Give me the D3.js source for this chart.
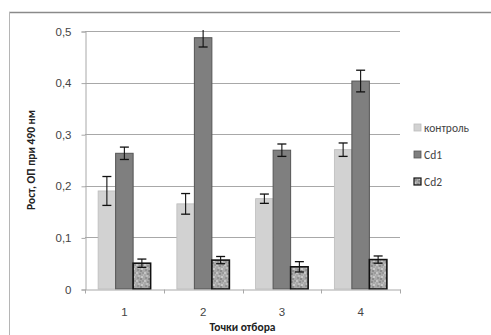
<!DOCTYPE html>
<html>
<head>
<meta charset="utf-8">
<script src="https://cdn.jsdelivr.net/npm/d3@7"></script>
<style>
  html, body { margin: 0; padding: 0; background: #fff; }
  svg { display: block; font-family: Calibri, Carlito, "Liberation Sans", Arial, sans-serif; }
</style>
</head>
<body>
<svg id="chart" width="491" height="335"></svg>
<script>
// Sampling points
const categories = ["1", "2", "3", "4"];
const seriesNames = ["контроль", "Cd1", "Cd2"];
// Optical density at 490 nm, per series, per sampling point
const control = [0.190, 0.165, 0.175, 0.270];
const cd1 = [0.263, 0.487, 0.269, 0.403];
const cd2 = [0.050, 0.056, 0.043, 0.057];
// Error bar half-widths
const controlErr = [0.028, 0.020, 0.009, 0.013];
const cd1Err = [0.012, 0.018, 0.012, 0.021];
const cd2Err = [0.008, 0.007, 0.010, 0.007];
const yTicks = [0, 0.1, 0.2, 0.3, 0.4, 0.5];
const yTitle = "Рост, ОП при 490 нм";
const xTitle = "Точки отбора";

const values = [control, cd1, cd2];
const errors = [controlErr, cd1Err, cd2Err];

const svg = d3.select("#chart");
const plot = { left: 85, right: 400, top: 31, bottom: 289 };

// Outer chart frame
svg.append("line").attr("x1", 9).attr("x2", 491).attr("y1", 12.5).attr("y2", 12.5)
  .attr("stroke", "#8a8a8a").attr("stroke-width", 1.5);
svg.append("line").attr("x1", 9.5).attr("x2", 9.5).attr("y1", 12).attr("y2", 335)
  .attr("stroke", "#b5b5b5").attr("stroke-width", 1);

const x0 = d3.scaleBand().domain(categories).range([plot.left, plot.right]).paddingInner(0).paddingOuter(0);
const bw = x0.bandwidth() / (3 + 1.5);
const x1 = d3.scaleBand().domain(seriesNames).range([0, bw * 3]);
const y = d3.scaleLinear().domain([0, 0.5]).range([plot.bottom, plot.top]);

const fmt = d => d3.format(".1f")(d).replace(".", ",").replace(/^0,0$/, "0");

// Texture for the Cd2 series
const defs = svg.append("defs");
const pat = defs.append("pattern").attr("id", "mottle").attr("patternUnits", "userSpaceOnUse")
  .attr("width", 8).attr("height", 8);
pat.append("rect").attr("width", 8).attr("height", 8).attr("fill", "#a9a9a9");
const specks = [[0,0,"#c4c4c4"],[3,1,"#8f8f8f"],[5,4,"#c8c8c8"],[1,5,"#939393"],[6,0,"#9a9a9a"],[2,3,"#bdbdbd"],[4,6,"#8c8c8c"],[7,2,"#b8b8b8"]];
specks.forEach(s => pat.append("rect").attr("x", s[0]).attr("y", s[1]).attr("width", 2).attr("height", 2).attr("fill", s[2]));

// Gridlines
svg.append("g").selectAll("line").data(yTicks.filter(t => t > 0)).join("line")
  .attr("x1", plot.left).attr("x2", plot.right)
  .attr("y1", d => Math.round(y(d)) + 0.5).attr("y2", d => Math.round(y(d)) + 0.5)
  .attr("stroke", "#a8a8a8").attr("stroke-width", 1);

// Y axis
const yAxis = svg.append("g").attr("transform", `translate(${plot.left + 0.5},0.5)`)
  .call(d3.axisLeft(y).tickValues(yTicks).tickFormat(fmt).tickSize(4).tickPadding(10));
yAxis.select(".domain").attr("stroke", "#a8a8a8");
yAxis.selectAll(".tick line").attr("stroke", "#a8a8a8");
yAxis.selectAll("text").attr("fill", "#444").style("font-size", "11.5px");

const clip = defs.append("clipPath").attr("id", "plotclip");
clip.append("rect").attr("x", plot.left).attr("y", plot.top - 1).attr("width", plot.right - plot.left).attr("height", plot.bottom - plot.top + 3);

const fills = ["#d2d2d2", "#7f7f7f", "url(#mottle)"];
const strokes = ["#bcbcbc", "#555", "#111"];
const sw = [0.8, 1, 1.6];

const g = svg.append("g").attr("clip-path", "url(#plotclip)");
categories.forEach((c, i) => {
  const gx = x0(c) + bw * 0.75;
  seriesNames.forEach((s, j) => {
    const v = values[j][i], e = errors[j][i];
    const bx = gx + x1(s);
    g.append("rect").attr("x", bx).attr("y", y(v)).attr("width", x1.bandwidth()).attr("height", y(0) - y(v))
      .attr("fill", fills[j]).attr("stroke", strokes[j]).attr("stroke-width", sw[j]);
    const cx = bx + x1.bandwidth() / 2;
    g.append("line").attr("x1", cx).attr("x2", cx).attr("y1", y(v + e)).attr("y2", y(v - e))
      .attr("stroke", "#111").attr("stroke-width", 1.1);
    [v + e, v - e].forEach(t => g.append("line").attr("x1", cx - 4.5).attr("x2", cx + 4.5)
      .attr("y1", y(t)).attr("y2", y(t)).attr("stroke", "#111").attr("stroke-width", 1.3));
  });
});

// X axis
const xAxis = svg.append("g").attr("transform", `translate(0,${plot.bottom + 0.5})`)
  .call(d3.axisBottom(x0).tickSize(0).tickPadding(18));
xAxis.select(".domain").attr("stroke", "#a8a8a8");
xAxis.selectAll("text").attr("fill", "#444").style("font-size", "11.5px");
xAxis.append("g").selectAll("line").data(categories.concat(["end"])).join("line")
  .attr("x1", (d, i) => Math.round(plot.left + i * x0.bandwidth()) + 0.5)
  .attr("x2", (d, i) => Math.round(plot.left + i * x0.bandwidth()) + 0.5)
  .attr("y1", 0).attr("y2", 4).attr("stroke", "#a8a8a8");

// Axis titles
svg.append("text").attr("transform", `translate(35,${(plot.top + plot.bottom) / 2}) rotate(-90)`)
  .attr("text-anchor", "middle").attr("font-weight", "bold").attr("fill", "#222")
  .style("font-size", "11.5px").text(yTitle);
svg.append("text").attr("x", (plot.left + plot.right) / 2).attr("y", 331)
  .attr("text-anchor", "middle").attr("font-weight", "bold").attr("fill", "#222")
  .style("font-size", "11.5px").text(xTitle);

// Legend
const legend = svg.append("g").attr("transform", "translate(414,128)");
seriesNames.forEach((s, j) => {
  const row = legend.append("g").attr("transform", `translate(0,${j * 27})`);
  row.append("rect").attr("x", 0).attr("y", -4).attr("width", 7).attr("height", 7)
    .attr("fill", fills[j]).attr("stroke", strokes[j]).attr("stroke-width", j === 2 ? 1.2 : 0.8);
  row.append("text").attr("x", 10).attr("y", 4).attr("fill", "#444")
    .style("font-size", "11.5px").text(s);
});
</script>
</body>
</html>
